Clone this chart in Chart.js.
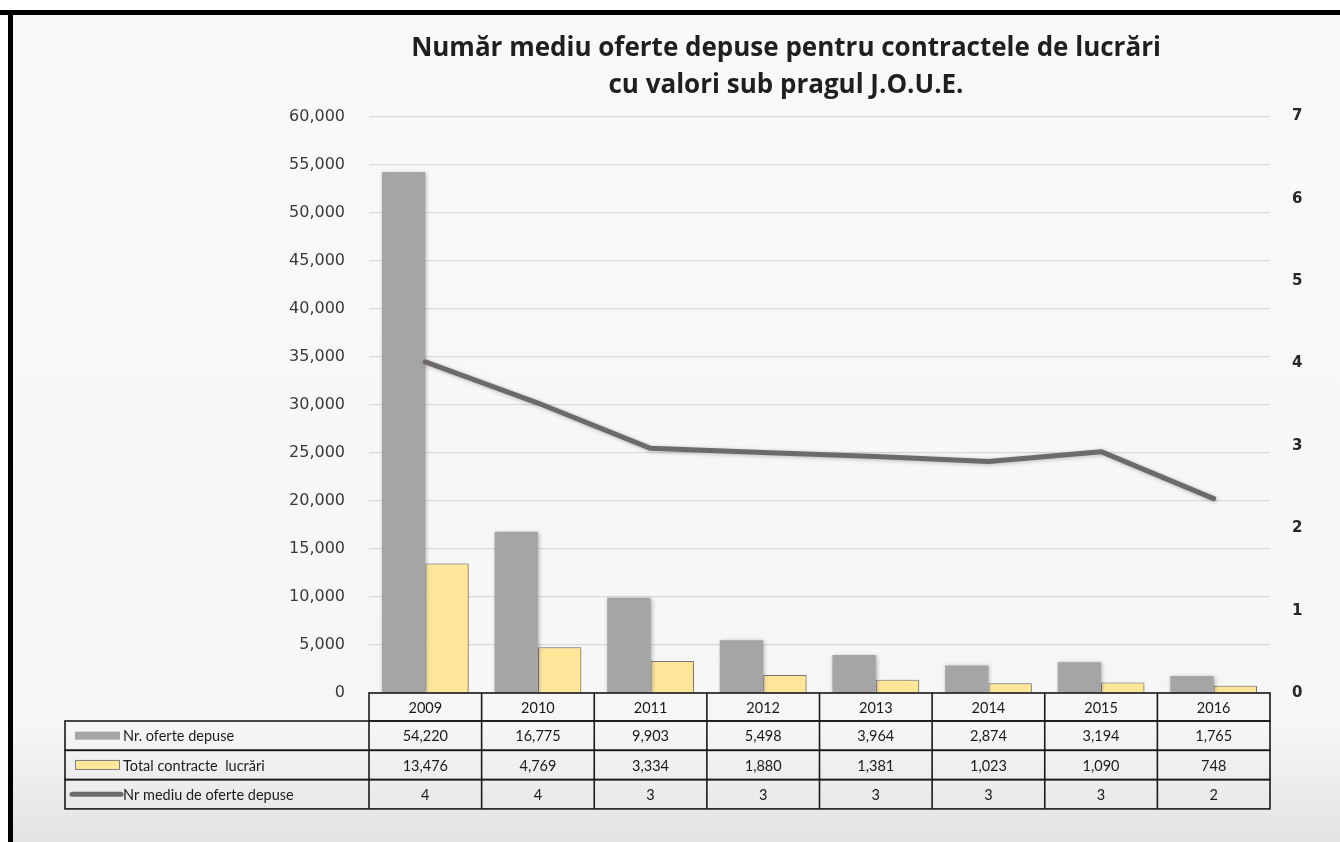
<!DOCTYPE html>
<html>
<head>
<meta charset="utf-8">
<script src="https://cdn.jsdelivr.net/npm/chart.js@4.4.1/dist/chart.umd.min.js"></script>
<style>
    html, body { margin: 0; padding: 0; background: #fff; }
    #wrap { position: relative; width: 1340px; height: 842px; }
</style>
</head>
<body>
<div id="wrap"><canvas id="oferteChart"></canvas></div>
<script>
const years = ['2009', '2010', '2011', '2012', '2013', '2014', '2015', '2016'];
const oferteDepuse = [54220, 16775, 9903, 5498, 3964, 2874, 3194, 1765];
const totalContracte = [13476, 4769, 3334, 1880, 1381, 1023, 1090, 748];
const mediuOferte = [4.02, 3.52, 2.97, 2.92, 2.87, 2.81, 2.93, 2.36];
const leftTicks = [0, 5000, 10000, 15000, 20000, 25000, 30000, 35000, 40000, 45000, 50000, 55000, 60000];
const rightTicks = [0, 1, 2, 3, 4, 5, 6, 7];

const seriesNames = ['Nr. oferte depuse', 'Total contracte  lucrări', 'Nr mediu de oferte depuse'];
const gray = '#A5A5A5';
const yellow = '#FFE699';
const lineGray = '#6E6A6B';

const fmt = v => v.toLocaleString('en-US');

// panel background + black frame on top and left
const panelPlugin = {
    id: 'panel',
    beforeDraw(chart) {
        const ctx = chart.ctx;
        ctx.save();
        ctx.fillStyle = '#ffffff';
        ctx.fillRect(0, 0, chart.width, chart.height);
        const grad = ctx.createLinearGradient(0, 0, 0, chart.height);
        grad.addColorStop(0, '#F9F9F9');
        grad.addColorStop(0.86, '#F6F6F6');
        grad.addColorStop(1, '#E3E3E3');
        ctx.fillStyle = grad;
        ctx.fillRect(12, 14, chart.width - 12, chart.height - 14);
        ctx.fillStyle = '#000';
        ctx.fillRect(0, 10, chart.width, 5);
        ctx.fillRect(8, 10, 5, chart.height - 10);
        ctx.restore();
    }
};

// soft shadow under the bars and the line
const shadowPlugin = {
    id: 'softShadow',
    beforeDatasetDraw(chart, args) {
        const ctx = chart.ctx;
        ctx.save();
        ctx.shadowColor = args.index === 2 ? 'rgba(0,0,0,0.25)' : 'rgba(0,0,0,0.3)';
        ctx.shadowBlur = 4;
        ctx.shadowOffsetX = 1;
        ctx.shadowOffsetY = 1;
    },
    afterDatasetDraw(chart) {
        chart.ctx.restore();
    }
};

// data table under the plot, columns taken from the x scale
const dataTablePlugin = {
    id: 'dataTable',
    afterDraw(chart) {
        const ctx = chart.ctx;
        const x = chart.scales.x;
        const area = chart.chartArea;
        const colW = (area.right - area.left) / years.length;
        const labelLeft = 65;
        const top = area.bottom;
        const headH = 28;
        const rowH = 29.3;
        const rows = [oferteDepuse.map(fmt), totalContracte.map(fmt), mediuOferte.map(v => String(Math.round(v)))];

        ctx.save();
        ctx.strokeStyle = '#1A1A1A';
        ctx.lineWidth = 1.6;
        ctx.fillStyle = '#1A1A1A';
        ctx.font = '14.5px Lato';
        ctx.textBaseline = 'middle';
        ctx.textAlign = 'center';

        // header row with years
        ctx.strokeRect(area.left, top, area.right - area.left, headH);
        years.forEach((y, i) => {
            const cx = x.getPixelForValue(i);
            if (i > 0) {
                ctx.beginPath();
                ctx.moveTo(cx - colW / 2, top);
                ctx.lineTo(cx - colW / 2, top + headH);
                ctx.stroke();
            }
            ctx.fillText(y, cx, top + headH / 2 + 1);
        });

        // series rows
        rows.forEach((vals, r) => {
            const ry = top + headH + r * rowH;
            ctx.strokeRect(labelLeft, ry, area.right - labelLeft, rowH);
            ctx.beginPath();
            ctx.moveTo(area.left, ry);
            ctx.lineTo(area.left, ry + rowH);
            ctx.stroke();
            vals.forEach((v, i) => {
                const cx = x.getPixelForValue(i);
                if (i > 0) {
                    ctx.beginPath();
                    ctx.moveTo(cx - colW / 2, ry);
                    ctx.lineTo(cx - colW / 2, ry + rowH);
                    ctx.stroke();
                }
                ctx.fillText(v, cx, ry + rowH / 2 + 1);
            });

            // legend key + series name
            const my = ry + rowH / 2;
            ctx.save();
            if (r === 0) {
                ctx.fillStyle = gray;
                ctx.fillRect(75, my - 4, 45, 8);
            } else if (r === 1) {
                ctx.fillStyle = yellow;
                ctx.fillRect(75, my - 5, 45, 10);
                ctx.strokeStyle = '#7F7F7F';
                ctx.lineWidth = 1;
                ctx.strokeRect(75.5, my - 4.5, 44, 9);
            } else {
                ctx.strokeStyle = lineGray;
                ctx.lineWidth = 5;
                ctx.lineCap = 'round';
                ctx.beginPath();
                ctx.moveTo(72, my);
                ctx.lineTo(121, my);
                ctx.stroke();
            }
            ctx.restore();
            ctx.textAlign = 'left';
            ctx.fillText(seriesNames[r], 123, my + 1);
            ctx.textAlign = 'center';
        });
        ctx.restore();
    }
};

const oferteChart = new Chart(document.getElementById('oferteChart'), {
    type: 'bar',
    data: {
        labels: years,
        datasets: [{
            label: seriesNames[0],
            data: oferteDepuse,
            backgroundColor: gray,
            borderWidth: 0,
            yAxisID: 'y',
            order: 1
        }, {
            label: seriesNames[1],
            data: totalContracte,
            backgroundColor: yellow,
            borderColor: '#7F7F7F',
            borderWidth: 1,
            yAxisID: 'y',
            order: 2
        }, {
            type: 'line',
            label: seriesNames[2],
            data: mediuOferte,
            borderColor: lineGray,
            borderWidth: 5,
            borderCapStyle: 'round',
            borderJoinStyle: 'round',
            pointRadius: 0,
            fill: false,
            tension: 0,
            yAxisID: 'y1',
            order: 0
        }]
    },
    options: {
        responsive: true,
        maintainAspectRatio: false,
        animation: false,
        layout: {
            padding: { left: 232, right: 0, top: 0, bottom: 149 }
        },
        datasets: {
            bar: {
                categoryPercentage: 0.77,
                barPercentage: 1
            }
        },
        plugins: {
            legend: { display: false },
            tooltip: { enabled: false },
            title: {
                display: true,
                text: ['Număr mediu oferte depuse pentru contractele de lucrări', 'cu valori sub pragul J.O.U.E.'],
                color: '#1F1F1F',
                font: { family: '"Open Sans"', size: 26, weight: 'bold', lineHeight: 1.43 },
                padding: { top: 30, bottom: 12 }
            }
        },
        scales: {
            x: {
                display: false
            },
            y: {
                position: 'left',
                min: leftTicks[0],
                max: leftTicks[leftTicks.length - 1],
                afterBuildTicks: s => { s.ticks = leftTicks.map(v => ({ value: v })); },
                afterFit: s => { s.width = 137; },
                border: { display: false },
                grid: { color: '#D9D9D9', lineWidth: 1.3, drawTicks: false },
                ticks: {
                    padding: 24,
                    color: '#3A3A3A',
                    font: { family: '"DejaVu Sans"', size: 16 },
                    callback: v => fmt(v)
                }
            },
            y1: {
                position: 'right',
                min: rightTicks[0],
                max: rightTicks[rightTicks.length - 1],
                afterBuildTicks: s => { s.ticks = rightTicks.map(v => ({ value: v })); },
                afterFit: s => { s.width = 70; },
                border: { display: false },
                grid: { display: false, drawTicks: false },
                ticks: {
                    padding: 22,
                    color: '#262626',
                    font: { family: '"DejaVu Sans"', size: 15, weight: 'bold' }
                }
            }
        }
    },
    plugins: [panelPlugin, shadowPlugin, dataTablePlugin]
});
</script>
</body>
</html>
